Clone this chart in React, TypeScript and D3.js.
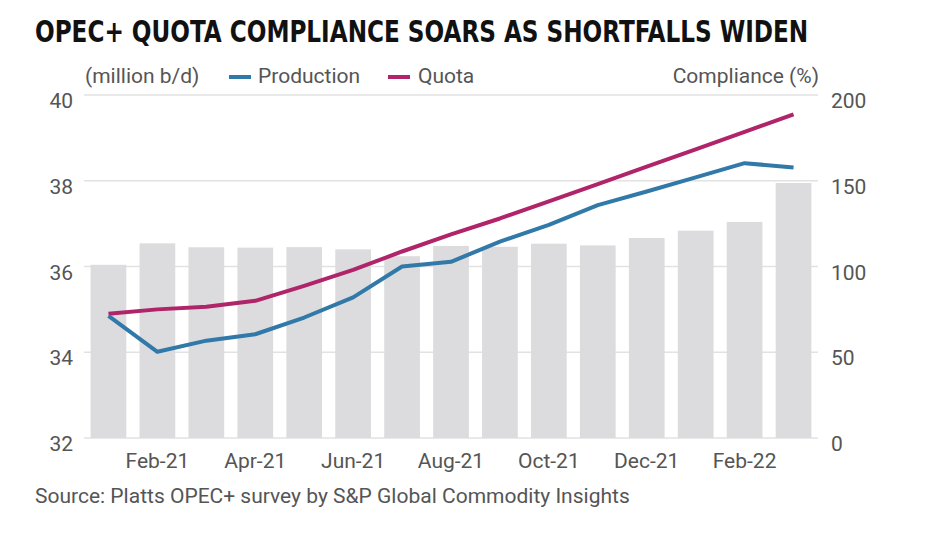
import React, { useLayoutEffect, useRef, useState } from "react";
import * as d3 from "d3";

const months = ["Jan-21","Feb-21","Mar-21","Apr-21","May-21","Jun-21","Jul-21","Aug-21","Sep-21","Oct-21","Nov-21","Dec-21","Jan-22","Feb-22","Mar-22"];
const compliance = [101, 113.5, 111.2, 111, 111.3, 110, 106, 112, 111.5, 113.3, 112.3, 116.6, 120.9, 126, 148.7];
const production = [34.85, 34.01, 34.27, 34.42, 34.81, 35.28, 36.0, 36.11, 36.58, 36.97, 37.43, 37.75, 38.08, 38.41, 38.31];
const quota = [34.9, 35.0, 35.06, 35.2, 35.55, 35.92, 36.35, 36.75, 37.12, 37.52, 37.92, 38.33, 38.73, 39.14, 39.55];
const leftTicks = [32, 34, 36, 38, 40];
const rightTicks = [0, 50, 100, 150, 200];
const xLabels = ["Feb-21","Apr-21","Jun-21","Aug-21","Oct-21","Dec-21","Feb-22"];

const TITLE = "OPEC+ QUOTA COMPLIANCE SOARS AS SHORTFALLS WIDEN";
const SOURCE = "Source: Platts OPEC+ survey by S&P Global Commodity Insights";

export default function App() {
  const W = 932, H = 535;
  const left = 84, right = 818, top = 95, bottom = 438;
  const x = d3.scaleBand<string>().domain(months).range([left, right]).paddingInner(0.27).paddingOuter(0.135);
  const yL = d3.scaleLinear().domain([32, 40]).range([bottom, top]);
  const yR = d3.scaleLinear().domain([0, 200]).range([bottom, top]);
  const cx = (m: string) => (x(m) as number) + x.bandwidth() / 2;
  const line = d3.line<number>().x((_, i) => cx(months[i])).y((d) => yL(d));
  const textColor = "#555";
  const font = "Roboto, 'Noto Sans', sans-serif";
  const blue = "#3179a8";
  const red = "#b0246a";

  const titleRef = useRef<SVGTextElement>(null);
  const [sx, setSx] = useState(0.84);
  useLayoutEffect(() => {
    if (titleRef.current) {
      const w = titleRef.current.getComputedTextLength();
      if (w > 0) setSx(773 / w);
    }
  }, []);

  return (
    <div style={{ position: "fixed", left: 0, top: 0 }}>
      <svg width={W} height={H} style={{ display: "block", background: "#fff" }}>
        <g transform={`translate(35,42) scale(${sx},1)`}>
          <text ref={titleRef} x={0} y={0} fontFamily="'DejaVu Sans Condensed', 'Liberation Sans Narrow', sans-serif" fontWeight="bold" fontSize={30} fill="#111">{TITLE}</text>
        </g>

        <g fontFamily={font} fontSize={21} fill={textColor}>
          <text x={85} y={83}>(million b/d)</text>
          <line x1={229} x2={251} y1={77} y2={77} stroke={blue} strokeWidth={4} />
          <text x={258} y={83}>Production</text>
          <line x1={388} x2={410} y1={77} y2={77} stroke={red} strokeWidth={4} />
          <text x={418} y={83}>Quota</text>
          <text x={819} y={83} textAnchor="end">Compliance (%)</text>
        </g>

        {leftTicks.map((t) => (
          <line key={"g" + t} x1={left} x2={right} y1={yL(t)} y2={yL(t)} stroke="#e2e2e2" strokeWidth={1.3} />
        ))}

        {months.map((m, i) => (
          <rect key={m} x={x(m) as number} y={yR(compliance[i])} width={x.bandwidth()} height={bottom - yR(compliance[i])} fill="#dcdcde" />
        ))}

        <path d={line(quota) || ""} fill="none" stroke={red} strokeWidth={4} strokeLinejoin="round" />
        <path d={line(production) || ""} fill="none" stroke={blue} strokeWidth={4} strokeLinejoin="round" />

        <g fontFamily={font} fontSize={21} fill={textColor}>
          {leftTicks.map((t) => (
            <text key={"l" + t} x={73} y={yL(t) + 13} textAnchor="end">{t}</text>
          ))}
          {rightTicks.map((t) => (
            <text key={"r" + t} x={831} y={yR(t) + 13}>{t}</text>
          ))}
          {xLabels.map((m) => (
            <text key={m} x={cx(m)} y={468} textAnchor="middle">{m}</text>
          ))}
          <text x={35} y={503}>{SOURCE}</text>
        </g>
      </svg>
    </div>
  );
}
